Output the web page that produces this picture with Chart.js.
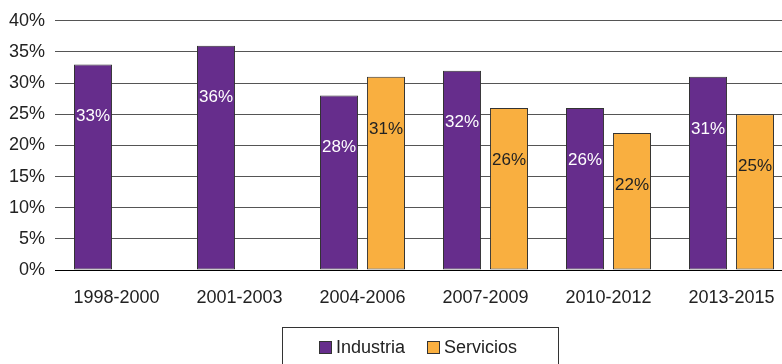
<!DOCTYPE html>
<html>
<head>
<meta charset="utf-8">
<script src="https://cdn.jsdelivr.net/npm/chart.js@4/dist/chart.umd.min.js"></script>
<style>
html,body{margin:0;padding:0;background:#fff;overflow:hidden;width:782px;height:364px;}
#wrap{position:absolute;left:0;top:0;width:793px;height:364px;}
</style>
</head>
<body>
<div id="wrap"><canvas id="c" width="793" height="364"></canvas></div>
<script>
const categories = ['1998-2000','2001-2003','2004-2006','2007-2009','2010-2012','2013-2015'];
const industria = [33, 36, 28, 32, 26, 31];
const servicios = [null, null, 31, 26, 22, 25];
const seriesNames = ['Industria', 'Servicios'];
const yTicks = [0, 5, 10, 15, 20, 25, 30, 35, 40];

const PURPLE = '#662d8c';
const ORANGE = '#f9af40';
const FONT = "'Liberation Sans', Arial, sans-serif";

const labelPlugin = {
  id: 'barLabels',
  afterDatasetsDraw(chart) {
    const ctx = chart.ctx;
    ctx.save();
    ctx.font = '17px ' + FONT;
    ctx.textAlign = 'center';
    ctx.textBaseline = 'middle';
    chart.data.datasets.forEach((ds, di) => {
      const meta = chart.getDatasetMeta(di);
      meta.data.forEach((bar, i) => {
        const v = ds.data[i];
        if (v == null) return;
        ctx.fillStyle = di === 0 ? '#ffffff' : '#222222';
        ctx.fillText(v + '%', bar.x, bar.y + 52);
      });
    });
    ctx.restore();
  }
};

const legendPlugin = {
  id: 'boxLegend',
  afterDraw(chart) {
    const ctx = chart.ctx;
    ctx.save();
    ctx.strokeStyle = '#333';
    ctx.lineWidth = 1;
    ctx.strokeRect(282.5, 327.5, 276, 60);
    ctx.font = '18px ' + FONT;
    ctx.textBaseline = 'middle';
    ctx.textAlign = 'left';
    const items = [{x: 319, c: PURPLE}, {x: 427, c: ORANGE}];
    chart.data.datasets.forEach((ds, i) => {
      const it = items[i];
      ctx.fillStyle = it.c;
      ctx.fillRect(it.x + 0.5, 341.5, 12, 12);
      ctx.strokeStyle = '#333';
      ctx.strokeRect(it.x + 0.5, 341.5, 12, 12);
      ctx.fillStyle = '#222';
      ctx.fillText(ds.label, it.x + 17, 348);
    });
    ctx.restore();
  }
};

new Chart(document.getElementById('c'), {
  type: 'bar',
  data: {
    labels: categories,
    datasets: [
      {label: seriesNames[0], data: industria, backgroundColor: PURPLE, borderColor: '#333', borderWidth: 1,
       borderSkipped: false, categoryPercentage: 0.764, barPercentage: 0.81},
      {label: seriesNames[1], data: servicios, backgroundColor: ORANGE, borderColor: '#333', borderWidth: 1,
       borderSkipped: false, categoryPercentage: 0.764, barPercentage: 0.81}
    ]
  },
  options: {
    responsive: false,
    animation: false,
    layout: {padding: {top: 19, left: 0, right: 0, bottom: 0}},
    plugins: {legend: {display: false}, tooltip: {enabled: false}},
    scales: {
      x: {
        grid: {display: false, drawTicks: false},
        border: {display: true, color: '#000', width: 1},
        ticks: {color: '#222', font: {family: FONT, size: 18}, padding: 17, maxRotation: 0, autoSkip: false},
        afterFit(s) { s.height = 94; }
      },
      y: {
        min: 0, max: 40,
        afterBuildTicks(s) { s.ticks = yTicks.map(v => ({value: v})); },
        grid: {color: ctx => ctx.tick && ctx.tick.value === 0 ? '#000' : '#555', lineWidth: 1, drawTicks: false},
        border: {display: false},
        ticks: {color: '#222', font: {family: FONT, size: 18}, padding: 10, callback: v => v + '%'},
        afterFit(s) { s.width = 55; }
      }
    }
  },
  plugins: [labelPlugin, legendPlugin]
});
</script>
</body>
</html>
